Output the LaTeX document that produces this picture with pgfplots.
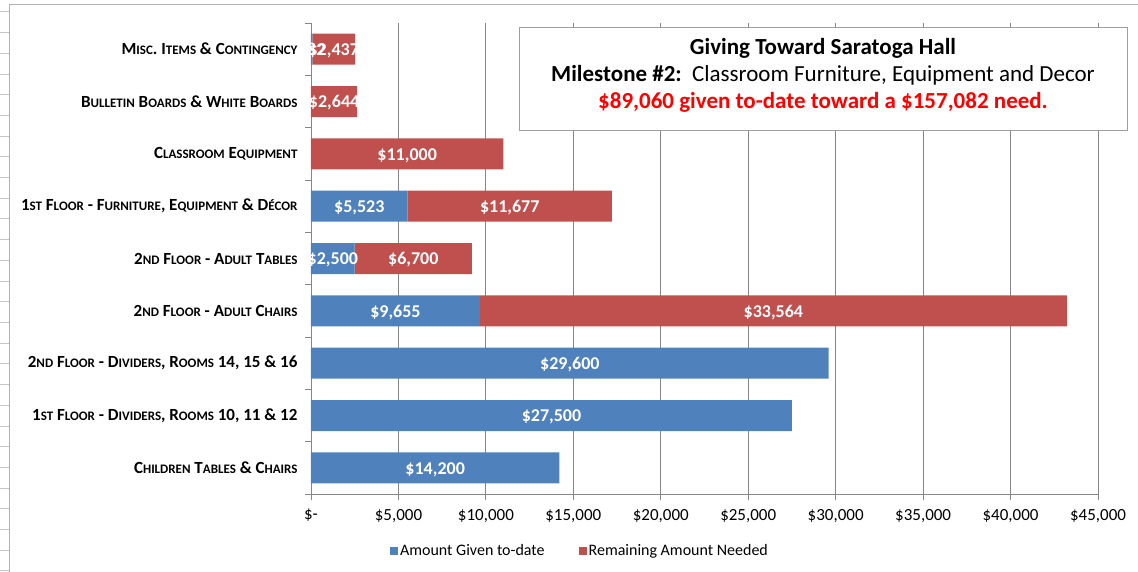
\documentclass[border=0pt]{standalone}
\usepackage{pgfplots}
\pgfplotsset{compat=1.18}
\usepackage{fontspec}
\setmainfont{Carlito}
\definecolor{barblue}{HTML}{4F81BD}
\definecolor{barred}{HTML}{C0504D}
\definecolor{gridgray}{HTML}{868686}
\newcommand{\SC}[1]{{\fontsize{13}{14}\selectfont #1}}
\begin{document}
\begin{tikzpicture}
\useasboundingbox (-311pt,-77pt) rectangle (827pt,494pt);
\foreach \i in {0,...,27} {
  \draw[black!22] (-311pt,{(494-11.7-20.7*\i)*1pt}) -- (-302pt,{(494-11.7-20.7*\i)*1pt});
}
\draw[black!30, line width=1pt] (-301pt,-90pt) -- (-301pt,489pt) -- (840pt,489pt);
\begin{axis}[
  at={(0pt,0pt)}, anchor=south west,
  xbar stacked,
  bar width=31pt,
  scale only axis, width=787pt, height=471pt,
  xmin=0, xmax=45000, ymin=-0.5, ymax=8.5,
  axis lines*=left,
  axis line style={gridgray, line width=0.8pt},
  scaled x ticks=false,
  xtick={0,5000,...,45000},
  xticklabels={\$-,{\$5,000},{\$10,000},{\$15,000},{\$20,000},{\$25,000},{\$30,000},{\$35,000},{\$40,000},{\$45,000}},
  xticklabel style={font=\fontsize{17}{17}\selectfont, yshift=-5.5pt},
  xmajorgrids, major grid style={gridgray, line width=0.9pt},
  tick align=outside,
  major tick length=6pt, minor tick length=6pt,
  xtick style={gridgray, line width=0.8pt},
  ytick={0,...,8},
  minor ytick={-0.5,0.5,...,8.5},
  major y tick style={draw=none},
  minor y tick style={gridgray, line width=0.8pt},
  yticklabels={
    C\SC{HILDREN} T\SC{ABLES} \& C\SC{HAIRS},
    {1\SC{ST} F\SC{LOOR} - D\SC{IVIDERS}, R\SC{OOMS} 10, 11 \& 12},
    {2\SC{ND} F\SC{LOOR} - D\SC{IVIDERS}, R\SC{OOMS} 14, 15 \& 16},
    2\SC{ND} F\SC{LOOR} - A\SC{DULT} C\SC{HAIRS},
    2\SC{ND} F\SC{LOOR} - A\SC{DULT} T\SC{ABLES},
    {1\SC{ST} F\SC{LOOR} - F\SC{URNITURE}, E\SC{QUIPMENT} \& D\SC{ÉCOR}},
    C\SC{LASSROOM} E\SC{QUIPMENT},
    B\SC{ULLETIN} B\SC{OARDS} \& W\SC{HITE} B\SC{OARDS},
    M\SC{ISC}. I\SC{TEMS} \& C\SC{ONTINGENCY}
  },
  yticklabel style={font=\bfseries\fontsize{17}{17}\selectfont, anchor=east, xshift=-4pt},
  point meta=explicit symbolic,
  nodes near coords={\pgfplotspointmeta},
  every node near coord/.append style={anchor=center, text=white, yshift=-1.5pt,
     font=\bfseries\fontsize{18}{18}\selectfont},
  legend style={at={(0.3418,-0.1204)}, anchor=center, draw=none, fill=none,
     legend columns=2, font=\fontsize{16}{16}\selectfont,
     /tikz/every even column/.append style={column sep=32pt}},
  legend image code/.code={\draw[#1,draw=none] (0pt,-4pt) rectangle (8pt,4pt);},
]
\addplot[fill=barblue, draw=none] coordinates {
 (14200,0) [{\$14,200}]
 (27500,1) [{\$27,500}]
 (29600,2) [{\$29,600}]
 (9655,3) [{\$9,655}]
 (2500,4) [{\$2,500}]
 (5523,5) [{\$5,523}]
 (0,6) [{\$-}]
 (0,7) [{\$-}]
 (82,8) [{\$82}]
};
\addlegendentry{Amount Given to-date}
\addplot[fill=barred, draw=none] coordinates {
 (0,0) [{\$-}]
 (0,1) [{\$-}]
 (0,2) [{\$-}]
 (33564,3) [{\$33,564}]
 (6700,4) [{\$6,700}]
 (11677,5) [{\$11,677}]
 (11000,6) [{\$11,000}]
 (2644,7) [{\$2,644}]
 (2437,8) [{\$2,437}]
};
\addlegendentry{Remaining Amount Needed}
\end{axis}
\node[draw=gridgray!80, fill=white, line width=0.8pt, minimum width=608pt, minimum height=103pt,
  inner sep=0pt] at (512pt,415.5pt) {};
\node[align=center, inner sep=0pt, font=\fontsize{23}{27}\selectfont] at (512pt,418.5pt)
  {\bfseries Giving Toward Saratoga Hall\\
   {\bfseries Milestone \#2:}\ \ Classroom Furniture, Equipment and Decor\\
   \textcolor{red}{\bfseries \$89,060 given to-date toward a \$157,082 need.}};
\end{tikzpicture}
\end{document}
